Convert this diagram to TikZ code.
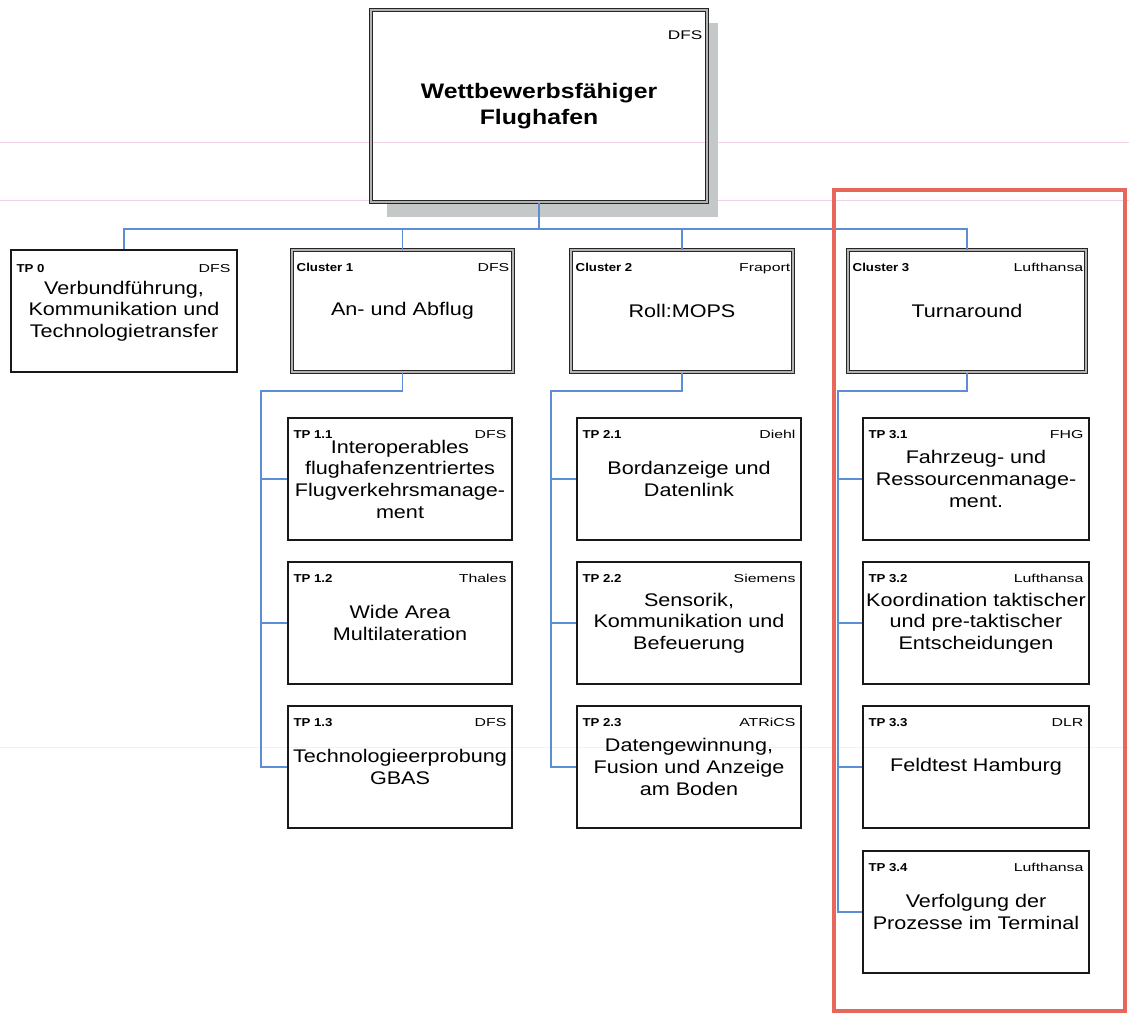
\documentclass[tikz,border=0pt]{standalone}
\usepackage{fontspec}
\setmainfont[FakeStretch=1.18]{Liberation Sans}
\newfontfamily\idfont[FakeStretch=1.15]{Liberation Sans}
\newfontfamily\orgfont[FakeStretch=1.38]{Liberation Sans}
\usetikzlibrary{calc}

\definecolor{linkblue}{HTML}{5B8ED4}
\definecolor{framered}{HTML}{E8675C}
\definecolor{shadowgray}{HTML}{C4C8C8}
\definecolor{scanpink}{HTML}{EFD2E6}
\definecolor{scanyellow}{HTML}{F2F5D8}

\tikzset{
  wp/.style={draw=black!90, line width=1.3pt, inner sep=0pt, align=center,
    font=\fontsize{18.3}{21.7}\selectfont,
    minimum width=224pt, minimum height=122pt},
  cluster/.style={wp, draw=black!85, line width=1pt, double=black!30,
    double distance=1.4pt},
  idlabel/.style={font=\idfont\bfseries\fontsize{11.5}{13}\selectfont, inner sep=0pt},
  orglabel/.style={font=\orgfont\fontsize{11.5}{13}\selectfont, inner sep=0pt},
  link/.style={draw=linkblue, line width=1.3pt},
}

\begin{document}
\begin{tikzpicture}[x=1pt, y=-1pt]
\useasboundingbox (0,0) rectangle (1129,1013);
\fill[white] (0,0) rectangle (1129,1013);

% faint ruling lines of the sheet
\draw[scanpink, line width=0.8pt] (0,142) -- (1129,142);
\draw[scanpink, line width=0.8pt] (0,200) -- (1129,200);
\draw[scanyellow, line width=0.8pt] (0,747) -- (1129,747);

% ---- project goal ----
\fill[shadowgray] (707,23) rectangle (718,217);
\fill[shadowgray] (387,202) rectangle (718,217);
\node[cluster, minimum width=336pt, minimum height=192pt,
      font=\bfseries\fontsize{21}{26}\selectfont] (goal) at (539,106)
      {Wettbewerbsfähiger\\Flughafen};
\node[orglabel, font=\orgfont\fontsize{12.5}{13}\selectfont, anchor=base east]
      (goalorg) at ($(goal.north east)+(-5,30)$) {DFS};

% ---- first level ----
\node[wp, minimum width=226pt] (tp0) at (124,311)
      {Verbundführung,\\Kommunikation und\\Technologietransfer};
\node[cluster, minimum width=221pt] (c1) at (402.5,311) {An- und Abflug};
\node[cluster, minimum width=222pt] (c2) at (682,311) {Roll:MOPS};
\node[cluster, minimum width=238pt] (c3) at (967,311) {Turnaround};

\node[idlabel, anchor=base west] (tp0id) at ($(tp0.north west)+(6,23)$) {TP 0};
\node[orglabel, anchor=base east] (tp0org) at ($(tp0.north east)+(-7,23)$) {DFS};
\node[idlabel, anchor=base west] (c1id) at ($(c1.north west)+(5,22)$) {Cluster 1};
\node[orglabel, anchor=base east] (c1org) at ($(c1.north east)+(-4,22)$) {DFS};
\node[idlabel, anchor=base west] (c2id) at ($(c2.north west)+(5,22)$) {Cluster 2};
\node[orglabel, anchor=base east] (c2org) at ($(c2.north east)+(-3,22)$) {Fraport};
\node[idlabel, anchor=base west] (c3id) at ($(c3.north west)+(5,22)$) {Cluster 3};
\node[orglabel, anchor=base east] (c3org) at ($(c3.north east)+(-3,22)$) {Lufthansa};

% ---- cluster 1 ----
\node[wp] (tp11) at (400,479)
      {Interoperables\\flughafenzentriertes\\Flugverkehrsmanage-\\ment};
\node[wp] (tp12) at (400,623) {Wide Area\\Multilateration};
\node[wp] (tp13) at (400,767) {Technologieerprobung\\GBAS};

% ---- cluster 2 ----
\node[wp] (tp21) at (689,479) {Bordanzeige und\\Datenlink};
\node[wp] (tp22) at (689,623) {Sensorik,\\Kommunikation und\\Befeuerung};
\node[wp] (tp23) at (689,767) {Datengewinnung,\\Fusion und Anzeige\\am Boden};

% ---- cluster 3 ----
\node[wp, minimum width=226pt] (tp31) at (976,479)
      {Fahrzeug- und\\Ressourcenmanage-\\ment.};
\node[wp, minimum width=226pt] (tp32) at (976,623)
      {Koordination taktischer\\und pre-taktischer\\Entscheidungen};
\node[wp, minimum width=226pt] (tp33) at (976,767) {Feldtest Hamburg};
\node[wp, minimum width=226pt] (tp34) at (976,912)
      {Verfolgung der\\Prozesse im Terminal};

% work package tags
\foreach \n/\id/\org in {tp11/TP 1.1/DFS, tp12/TP 1.2/Thales, tp13/TP 1.3/DFS,
    tp21/TP 2.1/Diehl, tp22/TP 2.2/Siemens, tp23/TP 2.3/ATRiCS,
    tp31/TP 3.1/FHG, tp32/TP 3.2/Lufthansa, tp33/TP 3.3/DLR, tp34/TP 3.4/Lufthansa}{
  \node[idlabel, anchor=base west] (\n id) at ($(\n.north west)+(6,21)$) {\id};
  \node[orglabel, anchor=base east] (\n org) at ($(\n.north east)+(-6,21)$) {\org};
}

% ---- connectors ----
\coordinate (hub) at (539,229);
\draw[link] (goal.south) -- (hub);
\draw[link] (tp0.north) |- (c3.north |- hub) -- (c3.north);
\draw[link] (c1.north) -- (c1.north |- hub);
\draw[link] (c2.north) -- (c2.north |- hub);

\coordinate (c1hub) at (261,391);
\draw[link] (c1.south) |- (c1hub) |- (tp13.west);
\draw[link] (tp11.west) -- (tp11.west -| c1hub);
\draw[link] (tp12.west) -- (tp12.west -| c1hub);

\coordinate (c2hub) at (551,391);
\draw[link] (c2.south) |- (c2hub) |- (tp23.west);
\draw[link] (tp21.west) -- (tp21.west -| c2hub);
\draw[link] (tp22.west) -- (tp22.west -| c2hub);

\coordinate (c3hub) at (838,391);
\draw[link] (c3.south) |- (c3hub) |- (tp34.west);
\draw[link] (tp31.west) -- (tp31.west -| c3hub);
\draw[link] (tp32.west) -- (tp32.west -| c3hub);
\draw[link] (tp33.west) -- (tp33.west -| c3hub);

% highlight frame around cluster 3
\draw[framered, line width=4pt] (834,190) rectangle (1125,1011);
\end{tikzpicture}
\end{document}
